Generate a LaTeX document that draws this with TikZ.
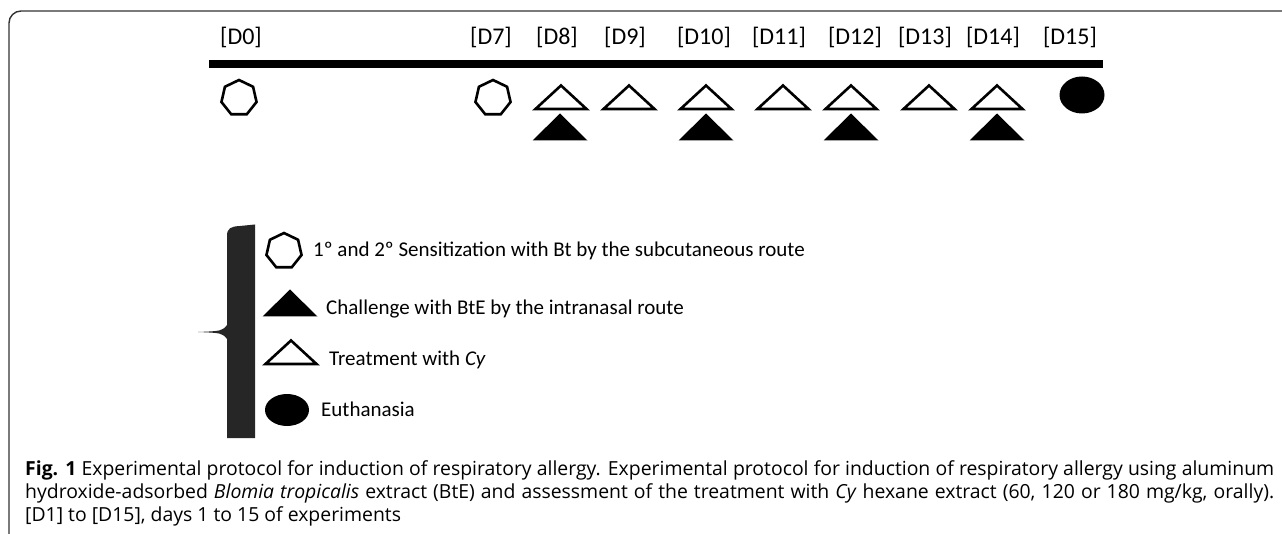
\documentclass[tikz,border=0pt]{standalone}
\usepackage{fontspec}
\setmainfont{Carlito}
\newfontfamily\capfont{Open Sans}
\usetikzlibrary{positioning}

\tikzset{
  markline/.style={line width=2.6pt, line join=miter},
  day/.style={font=\fontsize{24}{28}\selectfont, anchor=base, inner sep=0pt},
  keytext/.style={font=\fontsize{21}{25}\selectfont, anchor=base west, inner sep=0pt},
  timeline/.style={line width=8pt, black},
  frameline/.style={line width=1.4pt, black!80, rounded corners=12pt},
  keybar/.style={fill=black!85},
  hepta/.pic={\draw[markline] (-90:18) \foreach \k in {1,...,6}{ -- ({-90+\k*360/7}:18)} -- cycle;},
  opentri/.pic={\draw[markline] (-25.5,12) -- (25.5,12) -- (0,-11.5) -- cycle;},
  filltri/.pic={\fill (-27.5,13.5) -- (27.5,13.5) -- (0,-13.5) -- cycle;},
  euth/.pic={\fill (0,0) ellipse (22.5pt and 18.5pt);}
}

\begin{document}
\begin{tikzpicture}[x=1pt, y=-1pt]
        \useasboundingbox (0,0) rectangle (1282,534);
        \draw[frameline] (9,534) -- (9,11) -- (1282,11);

        % timeline
        \coordinate (tl) at (209,64);
        \coordinate (tr) at (1103,64);
        \draw[timeline] (tl) -- (tr);
        \foreach \d/\x in {0/241,7/491,8/557,9/625,10/704,11/779,12/855,13/925,14/993,15/1070}
            \node[day] (d\d) at (\x,45) {[D\d]};

        \pic (s0) at (239,98) {hepta};
        \pic (s7) at (493,98) {hepta};
        \foreach \n/\x in {8/561,9/629,10/706,11/783,12/851,13/929,14/997}
            \pic (t\n) at (\x,97) {opentri};
        \foreach \n/\x in {8/560,10/706,12/851,14/997}
            \pic (c\n) at (\x,127) {filltri};
        \pic (e15) at (1082,95) {euth};

        % legend
        \fill[keybar] (227,438) -- (227,339) .. controls (222,333) .. (198,332)
            .. controls (222,331) .. (227,325) -- (227,236)
            .. controls (227,228) and (231,226.5) .. (240,226) -- (255,224.5) -- (255,438) -- cycle;
        \pic (ks) at (284,251) {hepta};
        \pic (kc) at (290,303) {filltri};
        \pic (kt) at (291,352) {opentri};
        \fill (287,410) ellipse (22pt and 16pt);
        \node[keytext] (ls) at (313,257) {1º and 2º Sensitization with Bt by the subcutaneous route};
        \node[keytext] (lc) at (326,315) {Challenge with BtE by the intranasal route};
        \node[keytext] (lt) at (329,366) {Treatment with \textit{Cy}};
        \node[keytext] (le) at (321,416) {Euthanasia};

        % caption
        \node[anchor=north west, inner sep=0pt, text width=1249pt, align=justify,
              font=\capfont\fontsize{19.4}{23}\selectfont] (cap) at (25,460)
            {\textbf{Fig. 1} Experimental protocol for induction of respiratory allergy. Experimental protocol for induction of respiratory allergy using aluminum\linebreak
             hydroxide-adsorbed \textit{Blomia tropicalis} extract (BtE) and assessment of the treatment with \textit{Cy} hexane extract (60, 120 or 180 mg/kg, orally).\linebreak
             {[D1]} to {[D15]}, days 1 to 15 of experiments};
\end{tikzpicture}
\end{document}
